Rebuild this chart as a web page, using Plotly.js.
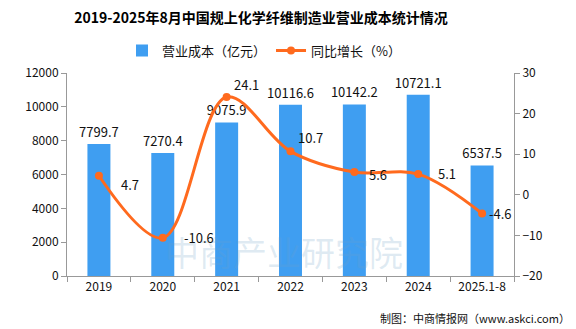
<!DOCTYPE html>
<html><head><meta charset="utf-8">
<script src="https://cdn.plot.ly/plotly-3.0.1.min.js"></script>
<style>body{margin:0;padding:0;}#c{width:576px;height:329px;outline:1px solid #8c8c8c;outline-offset:-1px;}</style>
</head><body><div id="c"></div>
<script>
const categories = ['2019','2020','2021','2022','2023','2024','2025.1-8'];
const cost = [7799.7, 7270.4, 9075.9, 10116.6, 10142.2, 10721.1, 6537.5];
const growth = [4.7, -10.6, 24.1, 10.7, 5.6, 5.1, -4.6];

// label offsets (px) for the growth labels: style, not data
const labelDX = [20, 19, 5, 5, 13, 18, 5];
const labelDY = [-9, 0, 12, 14, -2, 1, 0];

const F = '"Noto Sans CJK SC", "DejaVu Sans", sans-serif';
const barTrace = {
  type:'bar', x:categories, y:cost, name:'营业成本（亿元）',
  marker:{color:'#3F9EF1'}, width:0.36,
  text:cost.map(v=>v.toFixed(1)), textposition:'outside', cliponaxis:false, constraintext:'none',
  textfont:{family:F, size:13, color:'#111'}, hoverinfo:'skip'
};
const lineTrace = {
  type:'scatter', mode:'lines+markers', x:categories, y:growth, yaxis:'y2',
  name:'同比增长（%）', line:{color:'#FF6A1E', width:3, shape:'spline', smoothing:1},
  marker:{color:'#FF6A1E', size:8}, cliponaxis:false
};
// category index i is used as the annotation position on the category axis
const growthAnns = growth.map((v,i)=>({
  x:i, y:v, xref:'x', yref:'y2', text:v.toFixed(1), showarrow:false,
  xanchor:'left', yanchor:'middle', xshift:labelDX[i], yshift:labelDY[i],
  font:{family:F, size:13, color:'#111'}
}));
const layout = {
  width:576, height:329, margin:{l:67, r:62, t:73, b:53},
  paper_bgcolor:'#fff', plot_bgcolor:'rgba(0,0,0,0)',
  title:{text:'<b>2019-2025年8月中国规上化学纤维制造业营业成本统计情况</b>', font:{family:F, size:14, color:'#000'}, x:261/576, xanchor:'center', y:0.945, yanchor:'middle'},
  showlegend:true,
  legend:{orientation:'h', x:(264-67)/447, xanchor:'center', y:1.11, yanchor:'middle', font:{family:F, size:13, color:'#111'}, itemwidth:30, bgcolor:'rgba(0,0,0,0)'},
  bargap:0.64,
  xaxis:{type:'category', range:[-0.5, categories.length-0.5], showline:true, linecolor:'#999', ticks:'outside', tickson:'boundaries', ticklen:5, tickcolor:'#999', tickfont:{family:F, size:12, color:'#111'}, showgrid:false, zeroline:false},
  yaxis:{range:[0,12000], dtick:2000, tickformat:'d', showline:true, linecolor:'#999', ticks:'outside', ticklen:5, tickcolor:'#999', tickfont:{family:F, size:12, color:'#111'}, showgrid:false, zeroline:false},
  yaxis2:{overlaying:'y', side:'right', range:[-20,30], dtick:10, showline:true, linecolor:'#999', ticks:'outside', ticklen:5, tickcolor:'#999', tickfont:{family:F, size:12, color:'#111'}, showgrid:false, zeroline:false},
  annotations:[
    {text:'中商产业研究院', xref:'paper', yref:'paper', x:(284-67)/447, y:(276-251)/203, xanchor:'center', yanchor:'middle', showarrow:false, font:{family:F, size:34, color:'rgba(110,160,200,0.22)'}},
    {text:'制图：中商情报网（www.askci.com）', xref:'paper', yref:'paper', x:(572-67)/447, y:-(318-276)/203, xanchor:'right', yanchor:'middle', showarrow:false, font:{family:F, size:11, color:'#111'}}
  ].concat(growthAnns)
};
Plotly.newPlot('c', [barTrace, lineTrace], layout, {staticPlot:true, displayModeBar:false});
</script></body></html>
